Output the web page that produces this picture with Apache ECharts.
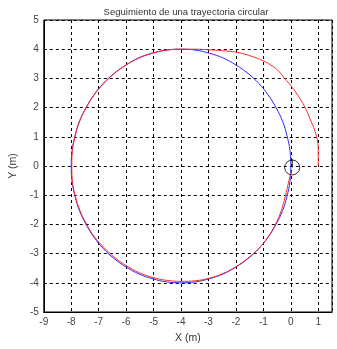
<!DOCTYPE html>
<html>
<head>
<meta charset="utf-8">
<script src="https://cdn.jsdelivr.net/npm/echarts@6/dist/echarts.min.js"></script>
<style>html,body{margin:0;padding:0;background:#fff}#c{width:337px;height:349px}</style>
</head>
<body>
<div id="c"></div>
<script>
var titleText = 'Seguimiento de una trayectoria circular';
var xLabel = 'X (m)';
var yLabel = 'Y (m)';
var xTicks = [-9,-8,-7,-6,-5,-4,-3,-2,-1,0,1];
var yTicks = [-5,-4,-3,-2,-1,0,1,2,3,4,5];

// Reference path (blue)
var refX = [0,-0.03,-0.14,-0.30,-0.54,-0.83,-1.17,-1.56,-2,-2.47,-2.96,-3.48,-4,-4.52,-5.04,-5.53,-6,-6.44,-6.83,-7.17,-7.46,-7.70,-7.86,-7.97,-8,
            -7.97,-7.86,-7.70,-7.46,-7.17,-6.83,-6.44,-6,-5.53,-5.04,-4.52,-4,-3.48,-2.96,-2.47,-2,-1.56,-1.17,-0.83,-0.54,-0.30,-0.14,-0.03,0];
var refY = [0,0.52,1.04,1.53,2.0,2.44,2.83,3.17,3.46,3.70,3.86,3.97,4,3.97,3.86,3.70,3.46,3.17,2.83,2.44,2.0,1.53,1.04,0.52,0,
            -0.52,-1.04,-1.53,-2.0,-2.44,-2.83,-3.17,-3.46,-3.70,-3.86,-3.97,-4,-3.97,-3.86,-3.70,-3.46,-3.17,-2.83,-2.44,-2.0,-1.53,-1.04,-0.52,0];

// Robot trajectory (red)
var robX = [1,1,1,0.98,0.94,0.86,0.75,0.64,0.52,0.37,0.2,0,-0.22,-0.5,-0.75,-1,-1.5,-2,-2.5,-3,-3.5,-4,-4.52,-5.04,-5.53,-6,-6.44,-6.83,-7.17,-7.46,-7.70,-7.86,-7.96,-7.98,
            -7.96,-7.85,-7.68,-7.44,-7.15,-6.8,-6.41,-5.98,-5.51,-5.02,-4.5,-4,-3.48,-2.96,-2.47,-2.0,-1.57,-1.17,-0.84,-0.56,-0.35,-0.2,-0.08,0.03];
var robY = [0,0.3,0.6,0.8,1,1.25,1.5,1.75,2,2.25,2.5,2.75,3,3.3,3.47,3.6,3.78,3.9,3.95,3.98,4.0,4.0,3.97,3.87,3.71,3.46,3.16,2.81,2.43,1.99,1.52,1.02,0.5,0,
            -0.52,-1.04,-1.53,-2.0,-2.43,-2.8,-3.14,-3.42,-3.66,-3.82,-3.92,-3.95,-3.93,-3.84,-3.68,-3.45,-3.16,-2.83,-2.44,-2.0,-1.53,-1.04,-0.55,-0.15];

// Robot marker position and heading segment
var robotPos = [0.05,-0.05];
var robotHeading = [[0.05,-0.05],[0.05,0.22]];

function zip(a,b){var r=[];for(var i=0;i<a.length;i++)r.push([a[i],b[i]]);return r;}

var font = '"Liberation Sans",Arial,sans-serif';
var chart = echarts.init(document.getElementById('c'));
chart.setOption({
  animation:false,
  backgroundColor:'#fff',
  title:{text:titleText,left:181,top:2,textAlign:'center',textStyle:{fontFamily:font,fontSize:9.5,fontWeight:'normal',color:'#333'}},
  grid:{left:31,right:5,top:20,bottom:32,show:true,borderColor:'#000',borderWidth:1,backgroundColor:'transparent'},
  xAxis:{type:'value',min:-9,max:1.5,interval:1,
    name:xLabel,nameLocation:'middle',nameGap:21,nameTextStyle:{fontFamily:font,fontSize:10.5,color:'#333'},
    axisLine:{show:true,onZero:false,lineStyle:{color:'#000'}},axisTick:{show:false},
    axisLabel:{fontFamily:font,fontSize:10,color:'#444',margin:5,showMaxLabel:false,
      formatter:function(v){return xTicks.indexOf(v)>=0?String(v):'';}},
    splitLine:{show:true,lineStyle:{color:'#000',type:[3,3],width:1}}},
  yAxis:{type:'value',min:-5,max:5,interval:1,
    name:yLabel,nameLocation:'middle',nameGap:17,nameRotate:90,nameTextStyle:{fontFamily:font,fontSize:10.5,color:'#333'},
    axisLine:{show:true,onZero:false,lineStyle:{color:'#000'}},axisTick:{show:false},
    axisLabel:{fontFamily:font,fontSize:10,color:'#444',margin:5,
      formatter:function(v){return yTicks.indexOf(v)>=0?String(v):'';}},
    splitLine:{show:true,lineStyle:{color:'#000',type:[3,3],width:1}}},
  series:[
    {type:'line',data:zip(refX,refY),smooth:0.4,showSymbol:false,lineStyle:{color:'#2a2aff',width:1},z:3},
    {type:'line',data:zip(robX,robY),smooth:0.4,showSymbol:false,lineStyle:{color:'#ff2a2a',width:1},z:4},
    {type:'scatter',data:[robotPos],symbol:'circle',symbolSize:15,itemStyle:{color:'rgba(0,0,0,0)',borderColor:'#000',borderWidth:1},z:5},
    {type:'line',data:robotHeading,showSymbol:false,lineStyle:{color:'#000',width:1},z:5}
  ]
});
</script>
</body>
</html>
